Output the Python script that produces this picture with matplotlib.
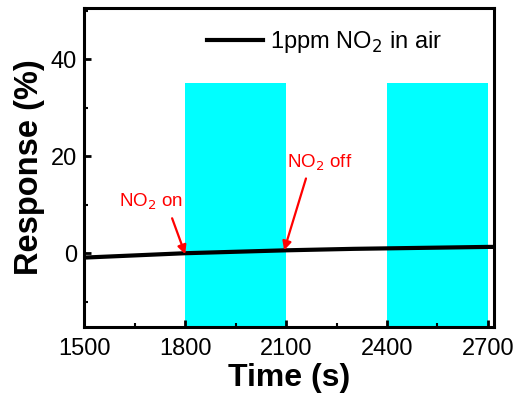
import matplotlib.pyplot as plt
from matplotlib.ticker import MultipleLocator

plt.rcParams['font.family'] = ['Liberation Sans', 'DejaVu Sans']

# sensor response vs time
time_s = [1500, 1600, 1700, 1800, 1900, 2000, 2100, 2200, 2300, 2400, 2500, 2600, 2700, 2720]
response = [-0.9, -0.6, -0.3, 0.0, 0.2, 0.4, 0.6, 0.75, 0.9, 1.0, 1.1, 1.2, 1.3, 1.3]

# gas exposure windows
gas_start = [1800, 2400]
gas_len = [300, 300]
gas_top = 35

fig = plt.figure(figsize=(5.2, 4.05), dpi=100)
ax = fig.add_axes([0.1615, 0.1926, 0.7885, 0.7874])

ax.set_xlim(1499, 2718)
ax.set_ylim(-15.2, 50.5)

ax.bar(gas_start, [gas_top + 15.2] * 2, width=gas_len, bottom=-15.2,
       align='edge', color='#00FFFF', zorder=1)
ax.plot(time_s, response, color='black', lw=3, zorder=3, label='1ppm NO$_2$ in air')

arrow = dict(arrowstyle='-|>', color='red', lw=1.6, mutation_scale=13,
             shrinkA=0, shrinkB=0)
ax.text(1699, 10.5, 'NO$_2$ on', color='red', fontsize=13.5, ha='center', va='center')
ax.annotate('', xy=(1800, -0.2), xytext=(1761, 7.2), arrowprops=arrow, zorder=4)
ax.text(2201, 18.7, 'NO$_2$ off', color='red', fontsize=13.5, ha='center', va='center')
ax.annotate('', xy=(2094, 0.6), xytext=(2159, 15.4), arrowprops=arrow, zorder=4)

ax.set_xticks([1500, 1800, 2100, 2400, 2700])
ax.set_yticks([0, 20, 40])
ax.xaxis.set_minor_locator(MultipleLocator(150))
ax.yaxis.set_minor_locator(MultipleLocator(10))
ax.tick_params(which='major', direction='in', length=5, width=2, labelsize=17)
ax.tick_params(axis='x', which='major', pad=8)
ax.tick_params(axis='y', which='major', pad=5)
ax.tick_params(which='minor', direction='in', length=3, width=1.5)
for s in ax.spines.values():
    s.set_linewidth(2.2)

ax.set_xlabel('Time (s)', fontsize=23, fontweight='bold', labelpad=2)
ax.set_ylabel('Response (%)', fontsize=23.5, fontweight='bold', labelpad=4)

ax.legend(loc='upper right', bbox_to_anchor=(0.926, 1.0), frameon=False,
          fontsize=17, handlelength=2.4, handletextpad=0.3)

fig.savefig('out.png', dpi=100)
